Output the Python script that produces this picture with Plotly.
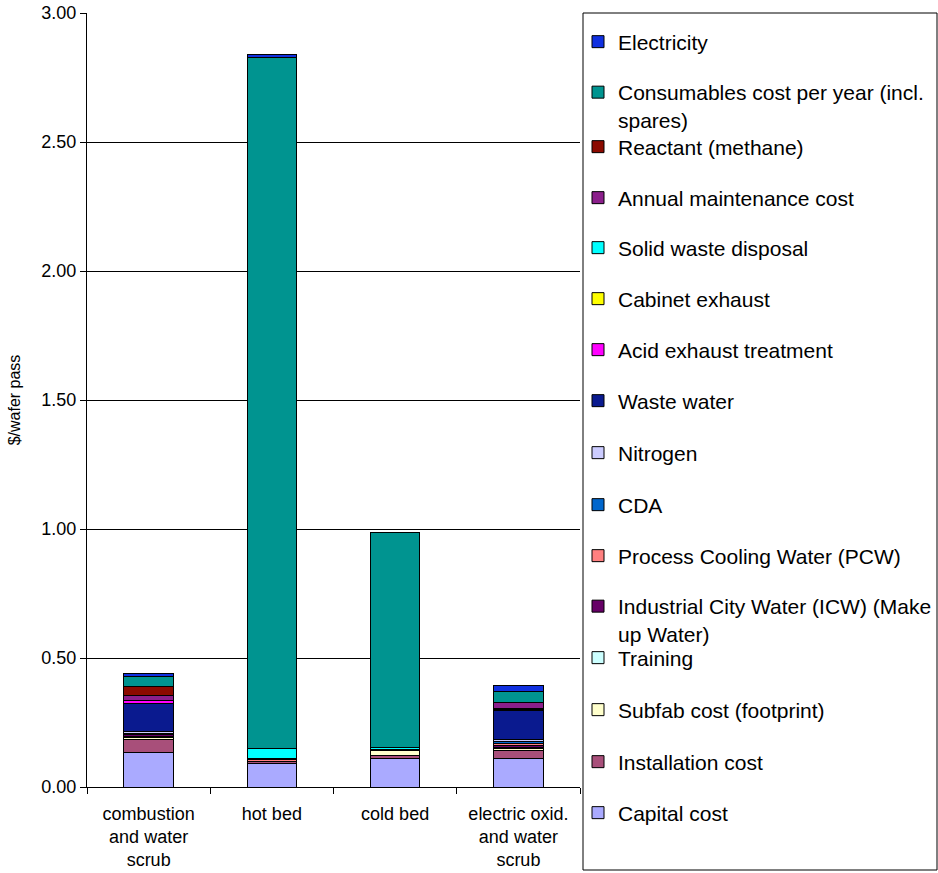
import plotly.graph_objects as go

categories = ["combustion<br>and water<br>scrub", "hot bed", "cold bed", "electric oxid.<br>and water<br>scrub"]

capital_cost = [0.133, 0.092, 0.112, 0.111]
installation_cost = [0.052, 0.008, 0.009, 0.030]
subfab_cost = [0.008, None, 0.021, 0.008]
training = [0.004, None, 0.004, 0.005]
icw = [0.008, None, None, 0.008]
pcw = [0.002, 0.005, None, 0.006]
cda = [0.002, None, None, 0.008]
nitrogen = [0.006, 0.004, None, 0.008]
waste_water = [0.110, None, None, 0.112]
acid_exhaust = [0.010, None, None, 0.003]
cabinet_exhaust = [0.002, None, None, 0.007]
solid_waste = [None, 0.039, 0.007, None]
maintenance = [0.019, None, None, 0.022]
reactant = [0.032, None, None, None]
consumables = [0.041, 2.681, 0.834, 0.041]
electricity = [0.012, 0.010, None, 0.026]

series = [
    ("Capital cost", capital_cost, "#AAAAFF"),
    ("Installation cost", installation_cost, "#A84F7A"),
    ("Subfab cost (footprint)", subfab_cost, "#FFFFCC"),
    ("Training", training, "#CCFFFF"),
    ("Industrial City Water (ICW) (Make<br>up Water)", icw, "#660066"),
    ("Process Cooling Water (PCW)", pcw, "#FF8080"),
    ("CDA", cda, "#0066CC"),
    ("Nitrogen", nitrogen, "#CCCCFF"),
    ("Waste water", waste_water, "#0A1A8F"),
    ("Acid exhaust treatment", acid_exhaust, "#FF00FF"),
    ("Cabinet exhaust", cabinet_exhaust, "#FFFF00"),
    ("Solid waste disposal", solid_waste, "#00FFFF"),
    ("Annual maintenance cost", maintenance, "#8B1F8B"),
    ("Reactant (methane)", reactant, "#8B0A00"),
    ("Consumables cost per year (incl.<br>spares)", consumables, "#009490"),
    ("Electricity", electricity, "#1030E0"),
]

# legend first-line centre pixel rows (top to bottom order = reverse of stack)
legend_rows = [813, 762, 710, 658, 607, 556, 505, 453, 401, 350, 299, 248, 198, 147, 93, 42]

W, H = 938, 873
L, R, T, B = 87, 580, 13, 787
pw, ph = R - L, B - T

def px_x(p):
    return (p - L) / pw

def px_y(p):
    return (B - p) / ph

FONT = "Liberation Sans, Arial, sans-serif"

fig = go.Figure()
layout_legends = {}
for i, (name, vals, col) in enumerate(series):
    key = "legend" if i == 0 else f"legend{i+1}"
    fig.add_trace(go.Bar(
        x=categories, y=vals, name=name,
        marker=dict(color=col, line=dict(color="#000000", width=1)),
        width=0.4, legend=key,
    ))
    two = "<br>" in name
    yc = legend_rows[i] + (13 if two else 0)
    layout_legends[key] = dict(
        x=px_x(578), xanchor="left", y=px_y(yc), yanchor="middle",
        bgcolor="rgba(0,0,0,0)", borderwidth=0,
        font=dict(family=FONT, size=21, color="#000"),
        valign="top",
    )

fig.update_layout(
    width=W, height=H,
    margin=dict(l=L, r=W - R, t=T, b=H - B, autoexpand=False),
    barmode="stack",
    plot_bgcolor="white", paper_bgcolor="white",
    showlegend=True,
    font=dict(family=FONT, color="#000"),
    xaxis=dict(
        showline=True, linecolor="#000", linewidth=1,
        ticks="outside", tickson="boundaries", ticklen=6, tickcolor="#000",
        tickfont=dict(size=18), showgrid=False, ticklabelstandoff=10,
    ),
    yaxis=dict(
        range=[0, 3.0], dtick=0.5, tickformat=".2f",
        showline=True, linecolor="#000", linewidth=1,
        ticks="outside", ticklen=6, tickcolor="#000",
        showgrid=True, gridcolor="#000", gridwidth=1,
        tickfont=dict(size=18),
        title=dict(text="$/wafer pass", font=dict(size=16), standoff=16),
        zeroline=False,
    ),
    shapes=[dict(type="rect", xref="paper", yref="paper",
                 x0=px_x(583), x1=px_x(937), y0=px_y(870), y1=px_y(13),
                 line=dict(color="#000", width=1), fillcolor="rgba(0,0,0,0)", layer="below")],
    **layout_legends,
)

fig.write_html("out.html")
